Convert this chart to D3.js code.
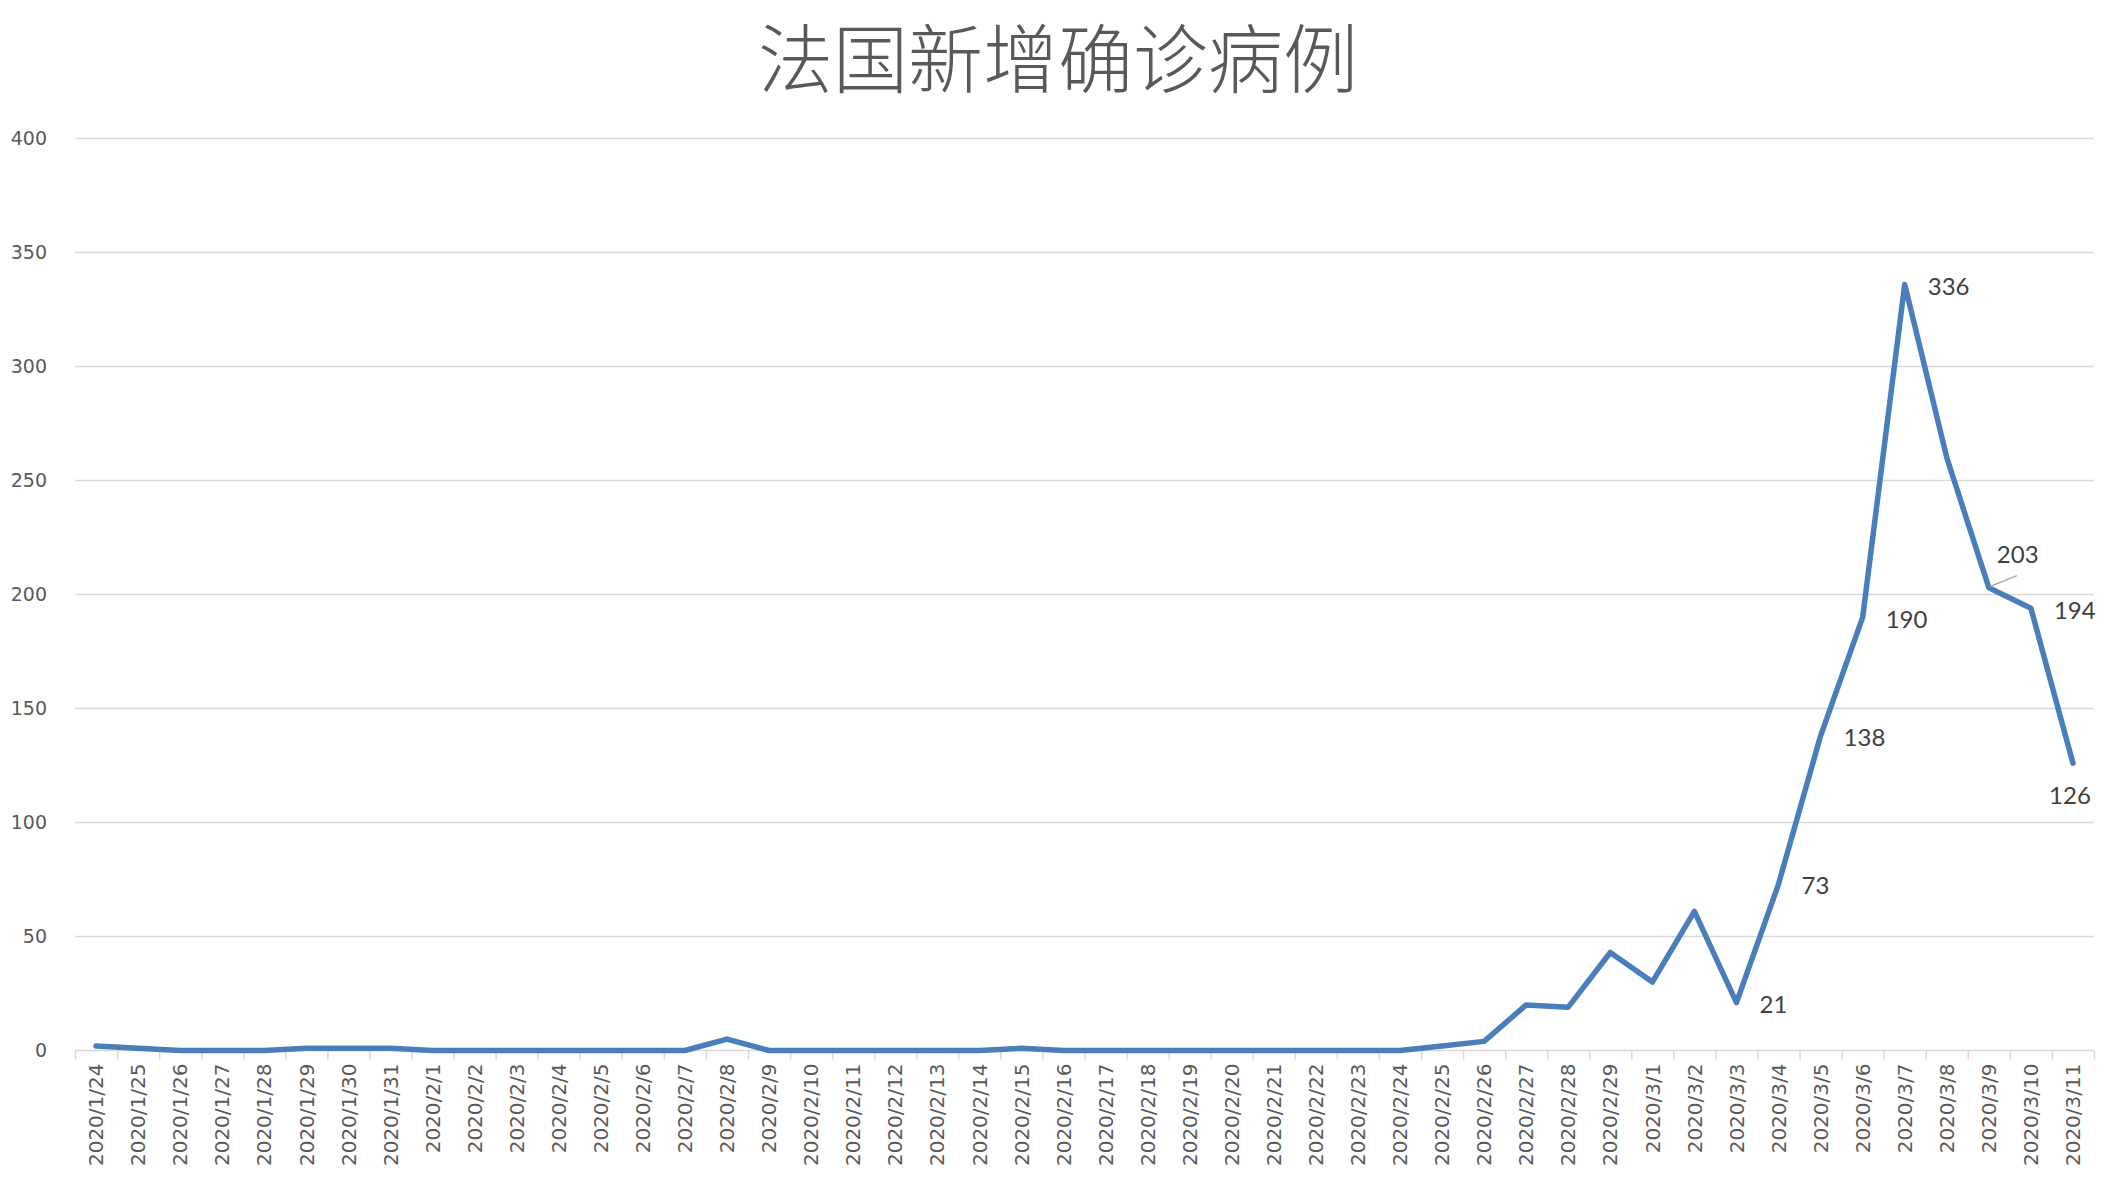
<!DOCTYPE html>
<html>
<head>
<meta charset="utf-8">
<script src="https://cdn.jsdelivr.net/npm/d3@7"></script>
<style>
  body { margin: 0; background: #fff; }
  .grid line { stroke: #d9d9d9; stroke-width: 1.5; }
  .y.axis text { font-family: "DejaVu Sans", sans-serif; font-size: 19px; fill: #595959; }
  .x.axis text { font-family: "DejaVu Sans", sans-serif; font-size: 20px; fill: #595959; }
  .y.axis path, .x.axis path { display: none; }
  .dlabel { font-family: Lato, "Open Sans", sans-serif; font-size: 24px; fill: #404040; }
</style>
</head>
<body>
<svg id="chart" width="2109" height="1177"></svg>
<script>
var title = "法国新增确诊病例"

var dates = [
  "2020/1/24", "2020/1/25", "2020/1/26", "2020/1/27", "2020/1/28", "2020/1/29", "2020/1/30", "2020/1/31",
  "2020/2/1", "2020/2/2", "2020/2/3", "2020/2/4", "2020/2/5", "2020/2/6", "2020/2/7", "2020/2/8",
  "2020/2/9", "2020/2/10", "2020/2/11", "2020/2/12", "2020/2/13", "2020/2/14", "2020/2/15", "2020/2/16",
  "2020/2/17", "2020/2/18", "2020/2/19", "2020/2/20", "2020/2/21", "2020/2/22", "2020/2/23", "2020/2/24",
  "2020/2/25", "2020/2/26", "2020/2/27", "2020/2/28", "2020/2/29",
  "2020/3/1", "2020/3/2", "2020/3/3", "2020/3/4", "2020/3/5", "2020/3/6", "2020/3/7", "2020/3/8",
  "2020/3/9", "2020/3/10", "2020/3/11"
]

var newCases = [
  2, 1, 0, 0, 0, 1, 1, 1,
  0, 0, 0, 0, 0, 0, 0, 5,
  0, 0, 0, 0, 0, 0, 1, 0,
  0, 0, 0, 0, 0, 0, 0, 0,
  2, 4, 20, 19, 43,
  30, 61, 21, 73, 138, 190, 336, 260,
  203, 194, 126
]

var yTicks = [0, 50, 100, 150, 200, 250, 300, 350, 400]

// which points carry a value label, and where it sits
var labelled = ["2020/3/3", "2020/3/4", "2020/3/5", "2020/3/6", "2020/3/7", "2020/3/9", "2020/3/10", "2020/3/11"]
var labelSide = ["right", "right", "right", "right", "right", "above", "right", "below"]

var W = 2109, H = 1177
var margin = { left: 75, right: 15, top: 138.5, bottom: 126.5 }
var svg = d3.select("#chart")

var xScale = d3.scaleBand().domain(dates).range([margin.left, W - margin.right])
var yScale = d3.scaleLinear().domain([0, 400]).range([H - margin.bottom, margin.top])
var cx = function (d) { return xScale(d) + xScale.bandwidth() / 2 }

// title
svg.append("text")
  .attr("x", 1058)
  .attr("y", 87)
  .attr("text-anchor", "middle")
  .style("font-family", "'Noto Sans CJK SC', sans-serif")
  .style("font-weight", 300)
  .style("font-size", "75px")
  .style("fill", "#595959")
  .text(title)

// horizontal gridlines
svg.append("g").attr("class", "grid")
  .selectAll("line").data(yTicks).enter()
  .append("line")
  .attr("x1", margin.left).attr("x2", W - margin.right)
  .attr("y1", function (d) { return yScale(d) })
  .attr("y2", function (d) { return yScale(d) })

// y axis labels
svg.append("g")
  .attr("class", "y axis")
  .attr("transform", "translate(" + margin.left + ",0)")
  .call(d3.axisLeft(yScale).tickValues(yTicks).tickSize(0).tickPadding(28))

// tick marks between categories
var edge = d3.scaleLinear().domain([0, dates.length]).range([margin.left, W - margin.right])
svg.append("g")
  .attr("transform", "translate(0," + yScale(0) + ")")
  .call(d3.axisBottom(edge).tickValues(d3.range(dates.length + 1)).tickSize(9).tickFormat(""))
  .call(function (g) {
    g.select(".domain").remove()
    g.selectAll("line").attr("stroke", "#d9d9d9").attr("stroke-width", 1.5)
  })

// x axis labels
svg.append("g")
  .attr("class", "x axis")
  .attr("transform", "translate(0," + yScale(0) + ")")
  .call(d3.axisBottom(xScale).tickSize(0))
  .selectAll("text")
  .attr("transform", "rotate(-90)")
  .attr("x", -13).attr("y", 0).attr("dy", "0.36em")
  .style("text-anchor", "end")

// the line
var line = d3.line()
  .x(function (d, i) { return cx(dates[i]) })
  .y(function (d) { return yScale(d) })

svg.append("path")
  .datum(newCases)
  .attr("d", line)
  .attr("fill", "none")
  .attr("stroke", "#4a7ebb")
  .attr("stroke-width", 5.5)
  .attr("stroke-linejoin", "round")
  .attr("stroke-linecap", "round")

// value labels
var labels = labelled.map(function (d, k) {
  var i = dates.indexOf(d)
  return { date: d, value: newCases[i], side: labelSide[k] }
})

labels.forEach(function (l) {
  var px = cx(l.date), py = yScale(l.value)
  var t = svg.append("text").attr("class", "dlabel").text(l.value)
  if (l.side == "right") {
    t.attr("x", px + 23).attr("y", py + 2).attr("dy", "0.35em")
  } else if (l.side == "above") {
    t.attr("x", px + 8).attr("y", py - 33).attr("dy", "0.35em")
    svg.append("line")
      .attr("x1", px + 1).attr("y1", py - 1)
      .attr("x2", px + 28).attr("y2", py - 12)
      .attr("stroke", "#a6a6a6").attr("stroke-width", 1.5)
  } else {
    t.attr("x", px - 3).attr("y", py + 32).attr("dy", "0.35em").attr("text-anchor", "middle")
  }
})
</script>
</body>
</html>
